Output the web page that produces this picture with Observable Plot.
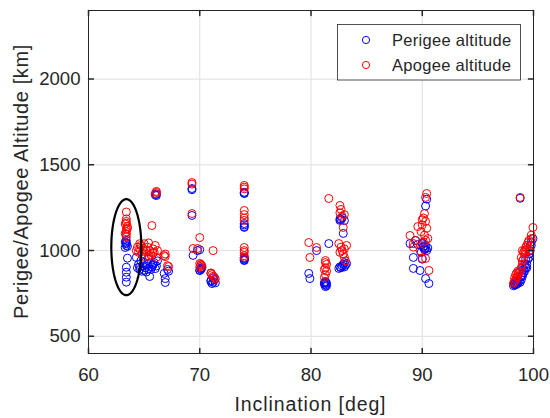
<!DOCTYPE html>
<html><head><meta charset="utf-8">
<script src="https://cdn.jsdelivr.net/npm/d3@7"></script>
<script src="https://cdn.jsdelivr.net/npm/@observablehq/plot@0.6"></script>
<style>
body{margin:0;background:#fff}
#chart{width:550px;height:418px}
</style>
</head><body><div id="chart"></div>
<script>
// Inclination [deg], perigee and apogee altitude [km] for each object
const inclination = [
  63.4,63.4,63.4,63.3,63.5,63.4,63.4,63.4,63.4,63.4,63.5,63.3,
  64.3,64.4,64.5,64.6,64.7,64.8,64.9,65.0,65.1,65.2,65.3,65.4,65.5,65.6,65.7,65.8,65.9,66.0,66.1,66.2,64.6,65.0,65.4,65.8,66.1,66.1,66.0,
  66.8,66.9,66.9,67.2,67.1,
  69.3,69.3,69.3,69.4,69.8,70.0,70.0,70.1,70.1,70.2,70.0,71.0,71.1,71.2,71.3,71.0,71.2,71.4,
  74.0,74.0,74.0,74.0,74.0,74.0,74.0,74.0,74.0,74.0,74.0,74.0,
  79.8,79.9,80.5,81.6,81.3,81.3,81.4,81.3,81.2,81.4,81.3,81.2,
  82.6,82.7,82.6,82.8,82.9,83.0,82.5,82.7,82.8,82.9,83.0,83.1,83.2,83.0,82.6,
  90.4,90.3,90.2,90.1,90.3,90.0,90.4,89.9,90.2,90.5,90.1,88.9,89.4,89.2,89.2,89.8,90.3,90.0,90.6,90.3,89.6,90.0,
  98.2,98.3,98.4,98.5,98.6,98.7,98.8,98.8,98.9,99.0,99.0,99.1,99.2,99.3,99.4,99.4,99.5,99.6,99.7,99.8,99.95,
  98.4,98.6,98.9,99.1,99.2,98.3,98.5,99.0,99.3,99.6,99.8
];
const perigee = [
  1059,1045,1030,1018,956,903,874,845,816,1040,1025,1050,
  960,900,920,890,940,880,910,930,900,875,920,950,849,890,905,920,930,895,910,940,905,885,895,915,1321,1330,1325,
  867,837,814,880,890,
  1362,1355,1205,972,1000,1005,884,890,895,900,885,826,808,815,830,820,840,812,
  1333,1340,1335,1135,1150,1158,1140,942,950,960,945,955,
  867,837,1000,1041,800,790,810,820,805,795,815,812,
  1176,1180,1185,1190,1100,1175,896,900,910,920,905,915,925,930,905,
  1300,1260,1012,1020,1030,1040,1000,990,1005,1015,1025,1041,1059,960,896,884,1012,950,808,837,1035,1045,
  795,800,800,805,810,820,815,1305,830,850,860,870,880,900,900,920,950,980,1000,1030,1070,
  815,830,850,890,920,805,820,900,950,960,1050
];
const apogee = [
  1225,1185,1170,1155,1140,1125,1110,1095,1080,1160,1130,1100,
  1000,1020,990,1010,1030,980,1012,1040,960,1000,1020,1045,1000,975,1146,1010,990,1030,960,1000,1040,995,970,985,1339,1345,1332,
  971,965,980,907,912,
  1397,1388,1216,1012,1012,1076,925,920,915,910,905,867,860,850,845,870,1000,835,
  1380,1370,1360,1234,1210,1190,1176,1018,1000,990,970,960,
  1047,960,1018,1304,942,900,880,860,843,920,930,890,
  1263,1240,1220,1200,1135,1210,1041,1020,1000,980,960,940,1030,1010,990,
  1333,1310,1216,1190,1170,1150,1130,1110,1090,1070,1050,1088,1059,1041,1020,1000,1060,954,884,954,1140,1180,
  810,820,830,845,850,870,880,1310,900,920,940,950,980,1000,1010,1030,1047,1060,1030,1090,1135,
  860,880,960,990,1000,840,870,1000,1020,1000,1070
];
const xTicks = [60, 70, 80, 90, 100];
const yTicks = [500, 1000, 1500, 2000];
const seriesNames = ["Perigee altitude", "Apogee altitude"];
const seriesColors = ["#0000ff", "#ff0000"];
// highlighted group (ellipse): centre and half-axes in data units
const ellipseCx = 63.4, ellipseCy = 1020, ellipseRx = 1.35, ellipseRy = 280;

const periData = inclination.map((inc, i) => ({inc, alt: perigee[i]}));
const apoData = inclination.map((inc, i) => ({inc, alt: apogee[i]}));
const ellData = d3.range(0, 121).map(k => {
  const t = 2 * Math.PI * k / 120;
  return {inc: ellipseCx + ellipseRx * Math.cos(t), alt: ellipseCy + ellipseRy * Math.sin(t)};
});

const tickShape = {draw(ctx, l) { ctx.moveTo(0, 0); ctx.lineTo(0, -l); }};
const ink = "#262626";
const font = "'Liberation Sans', Arial, Helvetica, sans-serif";

const chart = Plot.plot({
  width: 550, height: 418,
  marginLeft: 88, marginRight: 17, marginTop: 10, marginBottom: 65,
  style: {fontFamily: font, color: ink, background: "#fff"},
  x: {domain: [60, 100]},
  y: {domain: [400, 2400]},
  marks: [
    Plot.gridX(xTicks, {stroke: "#dfdfdf", strokeOpacity: 1}),
    Plot.gridY(yTicks, {stroke: "#dfdfdf", strokeOpacity: 1}),
    Plot.dot(periData, {x: "inc", y: "alt", r: 4, stroke: seriesColors[0], fill: "none", strokeWidth: 1}),
    Plot.dot(apoData, {x: "inc", y: "alt", r: 4, stroke: seriesColors[1], fill: "none", strokeWidth: 1}),
    Plot.line(ellData, {x: "inc", y: "alt", stroke: "#000", strokeWidth: 2.2, curve: "linear"}),
    Plot.frame({stroke: ink, strokeWidth: 1}),
    Plot.vector(xTicks, {x: d => d, y: 400, length: 5, rotate: 0, anchor: "start", shape: tickShape, stroke: ink}),
    Plot.vector(xTicks, {x: d => d, y: 2400, length: 5, rotate: 180, anchor: "start", shape: tickShape, stroke: ink}),
    Plot.vector(yTicks, {x: 60, y: d => d, length: 5, rotate: 90, anchor: "start", shape: tickShape, stroke: ink}),
    Plot.vector(yTicks, {x: 100, y: d => d, length: 5, rotate: -90, anchor: "start", shape: tickShape, stroke: ink}),
    Plot.axisX(xTicks, {tickSize: 0, tickPadding: 14, fontSize: 18.6, label: null, tickFormat: d => String(d)}),
    Plot.axisY(yTicks, {tickSize: 0, tickPadding: 8, fontSize: 18.6, label: null, tickFormat: d => String(d)})
  ]
});
document.getElementById("chart").appendChild(chart);

const svg = d3.select(chart);
svg.append("text")
  .attr("x", 310.5).attr("y", 410.5).attr("text-anchor", "middle")
  .attr("font-size", 19.5).attr("letter-spacing", "0.9px").attr("fill", ink).attr("font-family", font)
  .text("Inclination [deg]");
svg.append("text")
  .attr("transform", "translate(28,181.5) rotate(-90)").attr("text-anchor", "middle")
  .attr("font-size", 20).attr("letter-spacing", "0.6px").attr("fill", ink).attr("font-family", font)
  .text("Perigee/Apogee Altitude [km]");

const lg = svg.append("g");
lg.append("rect").attr("x", 337.5).attr("y", 24.5).attr("width", 183).attr("height", 55.5)
  .attr("fill", "#fff").attr("stroke", ink).attr("stroke-width", 0.8);
seriesNames.forEach((name, i) => {
  const cy = 40 + i * 25;
  lg.append("circle").attr("cx", 366).attr("cy", cy).attr("r", 3.6)
    .attr("fill", "none").attr("stroke", seriesColors[i]).attr("stroke-width", 1);
  lg.append("text").attr("x", 392).attr("y", cy).attr("dy", "0.36em").attr("text-anchor", "start")
    .attr("font-size", 16.5).attr("letter-spacing", "0.3px").attr("fill", ink).attr("font-family", font).text(name);
});
</script>
</body></html>
